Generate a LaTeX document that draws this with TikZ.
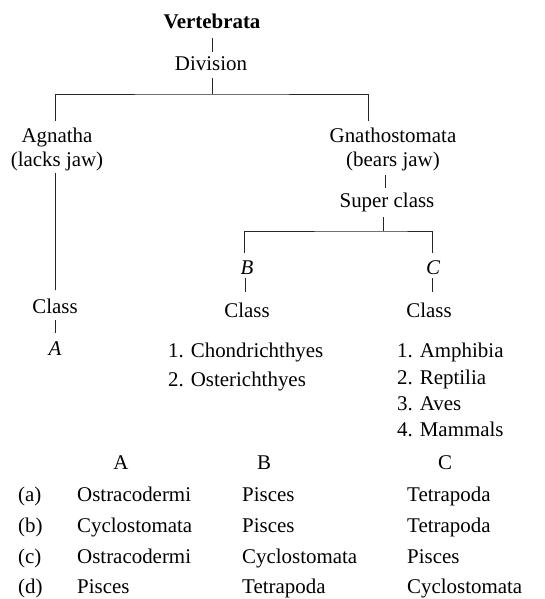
\documentclass[tikz,border=0pt]{standalone}
\usepackage{fontspec}
\setmainfont{Liberation Serif}
\usetikzlibrary{calc}
\begin{document}
\begin{tikzpicture}[x=1bp,y=-1bp,
  txt/.style={inner sep=0pt, font=\fontsize{21}{25}\selectfont, text=black},
  ctr/.style={txt, anchor=base},
  lft/.style={txt, anchor=base west},
  link/.style={draw=black!85, line width=0.8bp}]
\useasboundingbox (0,0) rectangle (545,599);
% tree nodes
\node[ctr, font=\fontsize{21}{25}\selectfont\bfseries] (vert) at (212,29) {Vertebrata};
\node[ctr] (div) at (211,71) {Division};
\node[ctr] (agn) at (57,143) {Agnatha};
\node[ctr] (lj) at (57,167) {(lacks jaw)};
\node[ctr] (gna) at (393,143) {Gnathostomata};
\node[ctr] (bj) at (393,167) {(bears jaw)};
\node[ctr] (sup) at (387,207) {Super class};
\node[ctr] (B) at (247,274) {\itshape B};
\node[ctr] (C) at (433,274) {\itshape C};
\node[ctr] (clsL) at (55,313) {Class};
\node[ctr] (clsB) at (247,317) {Class};
\node[ctr] (clsC) at (429,317) {Class};
\node[ctr] (A) at (55,355) {\itshape A};
% lists
\node[lft] (b1) at (168,357) {1. Chondrichthyes};
\node[lft] (b2) at (168,386) {2. Osterichthyes};
\node[lft] (c1) at (397,357) {1. Amphibia};
\node[lft] (c2) at (397,384) {2. Reptilia};
\node[lft] (c3) at (397,410) {3. Aves};
\node[lft] (c4) at (397,436) {4. Mammals};
% connectors
\draw[link] ($(vert.base)+(0,9)$) -- ($(div.base)+(1,-19)$);
\draw[link] ($(div.base)+(1,7)$) -- ($(div.base)+(1,23)$);
\draw[link] ($(agn.base)+(-2,-22)$) |- ($(div.base)+(1,23)$) -| ($(gna.base)+(-25,-22)$);
\draw[link] ($(lj.base)+(-1.5,6)$) -- ($(clsL.base)+(0.5,-23)$);
\draw[link] ($(bj.base)+(-7.5,8)$) -- ($(sup.base)+(-1.5,-19)$);
\draw[link] ($(sup.base)+(-4,10)$) -- ($(sup.base)+(-4,24)$);
\draw[link] ($(B.base)+(-3,-21)$) |- ($(sup.base)+(-4,24)$) -| ($(C.base)+(-1,-21)$);
\draw[link] ($(B.base)+(-2,4)$) -- ($(clsB.base)+(-2,-25)$);
\draw[link] ($(C.base)+(-1,4)$) -- ($(clsC.base)+(3,-25)$);
\draw[link] ($(clsL.base)+(0,7)$) -- ($(A.base)+(0,-22)$);
% table
\node[ctr] (hA) at (121,469) {A};
\node[ctr] (hB) at (264,469) {B};
\node[ctr] (hC) at (445,469) {C};
\node[lft] (ra) at (18,501) {(a)};
\node[lft] (rb) at (18,532) {(b)};
\node[lft] (rc) at (18,563) {(c)};
\node[lft] (rd) at (18,593) {(d)};
\node[lft] (aA) at (77,501) {Ostracodermi};
\node[lft] (aB) at (242,501) {Pisces};
\node[lft] (aC) at (407,501) {Tetrapoda};
\node[lft] (bA) at (77,532) {Cyclostomata};
\node[lft] (bB) at (242,532) {Pisces};
\node[lft] (bC) at (407,532) {Tetrapoda};
\node[lft] (cA) at (77,563) {Ostracodermi};
\node[lft] (cB) at (242,563) {Cyclostomata};
\node[lft] (cC) at (407,563) {Pisces};
\node[lft] (dA) at (77,593) {Pisces};
\node[lft] (dB) at (242,593) {Tetrapoda};
\node[lft] (dC) at (407,593) {Cyclostomata};
\end{tikzpicture}
\end{document}
